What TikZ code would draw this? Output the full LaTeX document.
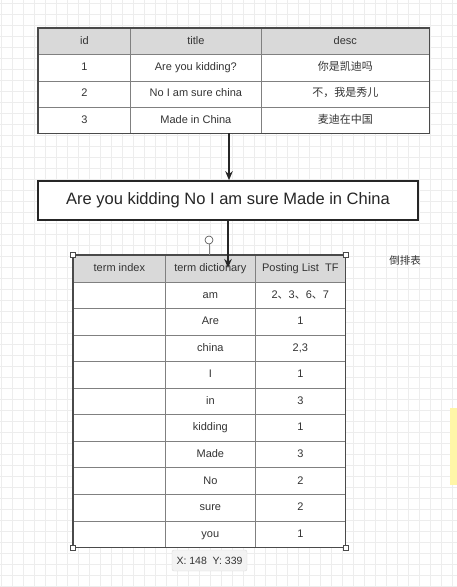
\documentclass[tikz,border=0pt]{standalone}
\usepackage{fontspec}
\setmainfont{Liberation Sans}
\newfontfamily\cjk{Noto Sans CJK SC}
\usetikzlibrary{arrows.meta,positioning,calc}
\definecolor{gridline}{HTML}{EDEDED}
\definecolor{headfill}{HTML}{D9D9D9}
\definecolor{cellline}{HTML}{808080}
\definecolor{frameline}{HTML}{4A4A4A}
\definecolor{celltext}{HTML}{333333}
\definecolor{tipfill}{HTML}{F3F3F3}
\definecolor{tipline}{HTML}{DADADA}
\definecolor{sidebar}{HTML}{FFF6A8}
\newcommand{\cellfont}{\fontsize{11}{13}\selectfont}
\tikzset{
  >=Stealth,
  cell/.style={draw=cellline,line width=0.7pt,fill=white,inner sep=0pt,
               anchor=north west,text=celltext,font=\cellfont,
               text height=8.5pt,text depth=2.5pt},
  head/.style={cell,fill=headfill},
  frame/.style={draw=frameline,line width=1.2pt},
  phrase/.style={draw=black!85,line width=1.6pt,fill=white,inner sep=0pt,
                 minimum width=380,minimum height=39,text=black!85,
                 font=\fontsize{16.5}{20}\selectfont},
  flow/.style={-{Stealth[length=9pt,width=7.5pt]},line width=1.7pt,draw=black!85},
  handle/.style={draw=frameline,fill=white,line width=0.6pt,inner sep=0pt,
                 minimum size=5},
  rothandle/.style={circle,draw=frameline,fill=white,line width=0.6pt,
                    inner sep=0pt,minimum size=8},
  tip/.style={fill=tipfill,draw=tipline,rounded corners=2pt,minimum width=75,
              minimum height=21,inner sep=0pt,text=celltext,
              font=\fontsize{10.5}{12}\selectfont},
}

\begin{document}
\begin{tikzpicture}[x=1pt,y=-1pt]
  \useasboundingbox (0,0) rectangle (457,587);

  % ---- canvas grid ----
  \foreach \gx in {1,12,...,457} \draw[gridline,line width=0.6pt] (\gx,0) -- (\gx,587);
  \foreach \gy in {3,14,...,587} \draw[gridline,line width=0.6pt] (0,\gy) -- (457,\gy);
  \fill[sidebar] (450,408) rectangle (457,485);

  % ---- source table ----
  \node[head,minimum width=92,minimum height=26.25] (s-0-1) at (38,28) {id};
  \node[head,minimum width=131,minimum height=26.25] (s-0-2) at (130,28) {title};
  \node[head,minimum width=168,minimum height=26.25] (s-0-3) at (261,28) {desc};
  \foreach \r/\id/\ttl/\dsc in {1/1/Are you kidding?/你是凯迪吗,
                                2/2/No I am sure china/不，我是秀儿,
                                3/3/Made in China/麦迪在中国}{
    \node[cell,minimum width=92,minimum height=26.25] (s-\r-1) at (38,{28+26.25*\r}) {\id};
    \node[cell,minimum width=131,minimum height=26.25] (s-\r-2) at (130,{28+26.25*\r}) {\ttl};
    \node[cell,minimum width=168,minimum height=26.25] (s-\r-3) at (261,{28+26.25*\r}) {\cjk\dsc};
  }
  \draw[frame] (s-0-1.north west) rectangle (s-3-3.south east);

  % ---- tokenised phrase ----
  \node[phrase] (phrase) at (228,200.5) {Are you kidding No I am sure Made in China};
  \coordinate (srcout) at (229,133);
  \draw[flow] (srcout) -- (srcout |- phrase.north);

  % ---- inverted index table ----
  \node[head,minimum width=92,minimum height=26.55] (i-0-1) at (73,255) {term index};
  \node[head,minimum width=90,minimum height=26.55] (i-0-2) at (165,255) {term dictionary};
  \node[head,minimum width=90,minimum height=26.55] (i-0-3) at (255,255) {Posting List\ \ TF};
  \foreach \r/\term/\post in {1/am/2{\cjk 、}3{\cjk 、}6{\cjk 、}7, 2/Are/1, 3/china/{2,3},
                              4/I/1, 5/in/3, 6/kidding/1, 7/Made/3, 8/No/2,
                              9/sure/2, 10/you/1}{
    \node[cell,minimum width=92,minimum height=26.55] (i-\r-1) at (73,{255+26.55*\r}) {};
    \node[cell,minimum width=90,minimum height=26.55] (i-\r-2) at (165,{255+26.55*\r}) {\term};
    \node[cell,minimum width=90,minimum height=26.55] (i-\r-3) at (255,{255+26.55*\r}) {\post};
  }
  \draw[frame] (i-0-1.north west) rectangle (i-10-3.south east);
  \node[font=\cjk\fontsize{10.5}{12}\selectfont,text=celltext] (invname) at (405,261) {倒排表};

  % ---- selection handles ----
  \node[handle] (h-nw) at (i-0-1.north west) {};
  \node[handle] (h-ne) at (i-0-3.north east) {};
  \node[handle] (h-sw) at (i-10-1.south west) {};
  \node[handle] (h-se) at (i-10-3.south east) {};
  \node[rothandle] (rot) at (209,240) {};
  \draw[cellline,line width=0.6pt] (rot) -- (rot |- i-0-2.north);

  % ---- phrase -> index ----
  \coordinate (idxin) at (228,268);
  \draw[flow] (phrase.south) -- (idxin);

  % ---- position tooltip ----
  \node[tip] (pos) at (209.5,560.5) {X: 148\ \ Y: 339};
\end{tikzpicture}
\end{document}
